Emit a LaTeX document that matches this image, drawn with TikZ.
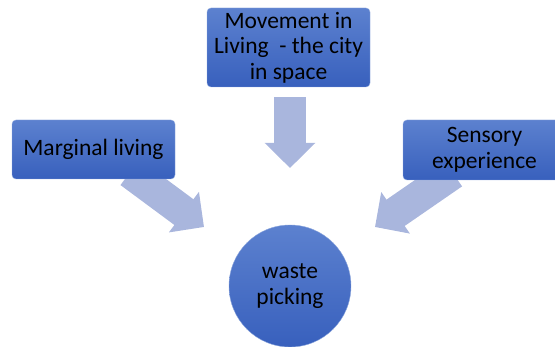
\documentclass[tikz,border=0pt]{standalone}
\usepackage{fontspec}
\setmainfont{Carlito}
\usetikzlibrary{arrows.meta}
\definecolor{boxtop}{HTML}{5C81CF}
\definecolor{boxbot}{HTML}{3860BD}
\definecolor{arrowfill}{HTML}{A9B6DD}
\pgfdeclarelayer{background}
\pgfsetlayers{background,main}

\begin{document}
\begin{tikzpicture}[x=1pt,y=-1pt]
\useasboundingbox (0,0) rectangle (555,347);

\begin{scope}[every node/.style={draw=boxtop!70!white, thin, top color=boxtop,
                                 bottom color=boxbot, text=black,
                                 font=\fontsize{23.5}{25.5}\selectfont, align=center,
                                 inner sep=1pt}]
    \node[rounded corners=4pt, minimum width=163pt, minimum height=79pt] (move) at (288.5,47.5)
        {Movement in\\Living~ - the city\\in space};
    \node[rounded corners=4pt, minimum width=163pt, minimum height=59pt] (marg) at (93.5,149.5)
        {Marginal living};
    \node[rounded corners=4pt, minimum width=163pt, minimum height=60pt] (sens) at (484.5,150)
        {Sensory\\experience};
    \node[circle, minimum size=122pt] (pick) at (290,286) {waste\\picking};
\end{scope}

\coordinate (movetip) at (290,168);
\coordinate (margtip) at (204,227);
\coordinate (senstip) at (375,227);

\begin{pgfonlayer}{background}
\begin{scope}[>={Triangle[length=25pt,width=49pt]},
              every path/.style={draw=arrowfill, line width=32pt}]
    \path [->] ([shift={(1.5,10)}]move.south) -- (movetip);
    \path [->] ([shift={(36.5,-7)}]marg.south) -- (margtip);
    \path [->] ([shift={(-31.5,-7)}]sens.south) -- (senstip);
\end{scope}
\end{pgfonlayer}
\end{tikzpicture}
\end{document}
